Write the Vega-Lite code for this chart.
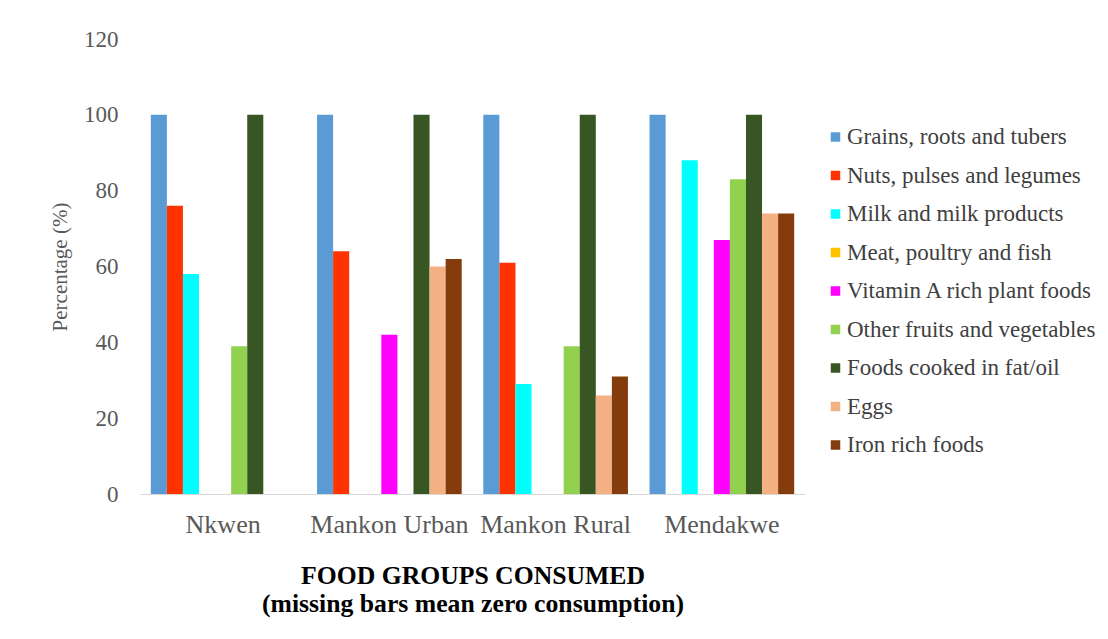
{
  "$schema": "https://vega.github.io/schema/vega-lite/v6.json",
  "width": 665,
  "height": 455,
  "autosize": {"type": "none"},
  "padding": {"left": 140, "top": 39, "right": 303, "bottom": 145},
  "background": "white",
  "config": {"view": {"stroke": null}, "font": "Liberation Serif"},
  "data": {"values": [
    {"site": "Nkwen", "group": "Grains, roots and tubers", "pct": 100},
    {"site": "Nkwen", "group": "Nuts, pulses and legumes", "pct": 76},
    {"site": "Nkwen", "group": "Milk and milk products", "pct": 58},
    {"site": "Nkwen", "group": "Meat, poultry and fish", "pct": 0},
    {"site": "Nkwen", "group": "Vitamin A rich plant foods", "pct": 0},
    {"site": "Nkwen", "group": "Other fruits and vegetables", "pct": 39},
    {"site": "Nkwen", "group": "Foods cooked in fat/oil", "pct": 100},
    {"site": "Nkwen", "group": "Eggs", "pct": 0},
    {"site": "Nkwen", "group": "Iron rich foods", "pct": 0},
    {"site": "Mankon Urban", "group": "Grains, roots and tubers", "pct": 100},
    {"site": "Mankon Urban", "group": "Nuts, pulses and legumes", "pct": 64},
    {"site": "Mankon Urban", "group": "Milk and milk products", "pct": 0},
    {"site": "Mankon Urban", "group": "Meat, poultry and fish", "pct": 0},
    {"site": "Mankon Urban", "group": "Vitamin A rich plant foods", "pct": 42},
    {"site": "Mankon Urban", "group": "Other fruits and vegetables", "pct": 0},
    {"site": "Mankon Urban", "group": "Foods cooked in fat/oil", "pct": 100},
    {"site": "Mankon Urban", "group": "Eggs", "pct": 60},
    {"site": "Mankon Urban", "group": "Iron rich foods", "pct": 62},
    {"site": "Mankon Rural", "group": "Grains, roots and tubers", "pct": 100},
    {"site": "Mankon Rural", "group": "Nuts, pulses and legumes", "pct": 61},
    {"site": "Mankon Rural", "group": "Milk and milk products", "pct": 29},
    {"site": "Mankon Rural", "group": "Meat, poultry and fish", "pct": 0},
    {"site": "Mankon Rural", "group": "Vitamin A rich plant foods", "pct": 0},
    {"site": "Mankon Rural", "group": "Other fruits and vegetables", "pct": 39},
    {"site": "Mankon Rural", "group": "Foods cooked in fat/oil", "pct": 100},
    {"site": "Mankon Rural", "group": "Eggs", "pct": 26},
    {"site": "Mankon Rural", "group": "Iron rich foods", "pct": 31},
    {"site": "Mendakwe", "group": "Grains, roots and tubers", "pct": 100},
    {"site": "Mendakwe", "group": "Nuts, pulses and legumes", "pct": 0},
    {"site": "Mendakwe", "group": "Milk and milk products", "pct": 88},
    {"site": "Mendakwe", "group": "Meat, poultry and fish", "pct": 0},
    {"site": "Mendakwe", "group": "Vitamin A rich plant foods", "pct": 67},
    {"site": "Mendakwe", "group": "Other fruits and vegetables", "pct": 83},
    {"site": "Mendakwe", "group": "Foods cooked in fat/oil", "pct": 100},
    {"site": "Mendakwe", "group": "Eggs", "pct": 74},
    {"site": "Mendakwe", "group": "Iron rich foods", "pct": 74}
  ]},
  "mark": {"type": "bar"},
  "encoding": {
    "x": {
      "field": "site", "type": "nominal",
      "sort": ["Nkwen", "Mankon Urban", "Mankon Rural", "Mendakwe"],
      "scale": {"paddingInner": 0.13, "paddingOuter": 0.065},
      "axis": {
        "title": ["FOOD GROUPS CONSUMED", "(missing bars mean zero consumption)"],
        "titleFont": "Liberation Serif", "titleFontSize": 25.7, "titleFontWeight": "bold",
        "titleColor": "#000000", "titlePadding": 26, "titleLineHeight": 28,
        "labelAngle": 0, "labelFont": "Liberation Serif", "labelFontSize": 26, "labelColor": "#595959", "labelPadding": 17,
        "ticks": false, "domainColor": "#D9D9D9", "domainWidth": 1
      }
    },
    "xOffset": {
      "field": "group", "type": "nominal",
      "sort": ["Grains, roots and tubers", "Nuts, pulses and legumes", "Milk and milk products", "Meat, poultry and fish", "Vitamin A rich plant foods", "Other fruits and vegetables", "Foods cooked in fat/oil", "Eggs", "Iron rich foods"],
      "scale": {"paddingInner": 0, "paddingOuter": 0}
    },
    "y": {
      "field": "pct", "type": "quantitative",
      "scale": {"domain": [0, 120]},
      "axis": {
        "title": "Percentage (%)", "titleFont": "Liberation Serif", "titleFontSize": 21,
        "titleFontWeight": "normal", "titleColor": "#595959", "titlePadding": 13,
        "values": [0, 20, 40, 60, 80, 100, 120], "labelFont": "Liberation Serif", "labelFontSize": 23, "labelColor": "#595959",
        "labelPadding": 22, "ticks": false, "domain": false, "grid": false
      }
    },
    "color": {
      "field": "group", "type": "nominal",
      "sort": ["Grains, roots and tubers", "Nuts, pulses and legumes", "Milk and milk products", "Meat, poultry and fish", "Vitamin A rich plant foods", "Other fruits and vegetables", "Foods cooked in fat/oil", "Eggs", "Iron rich foods"],
      "scale": {
        "domain": ["Grains, roots and tubers", "Nuts, pulses and legumes", "Milk and milk products", "Meat, poultry and fish", "Vitamin A rich plant foods", "Other fruits and vegetables", "Foods cooked in fat/oil", "Eggs", "Iron rich foods"],
        "range": ["#5B9BD5", "#FF3300", "#00FFFF", "#FFC000", "#FF00FF", "#92D050", "#375623", "#F4B183", "#843C0C"]
      },
      "legend": {
        "title": null, "orient": "none", "legendX": 684, "legendY": 86.5,
        "symbolType": "square", "symbolSize": 90, "symbolStrokeWidth": 0,
        "labelFontSize": 23, "labelColor": "#404040", "labelFont": "Liberation Serif",
        "rowPadding": 14.5, "labelOffset": 0, "labelLimit": 300
      }
    }
  }
}
